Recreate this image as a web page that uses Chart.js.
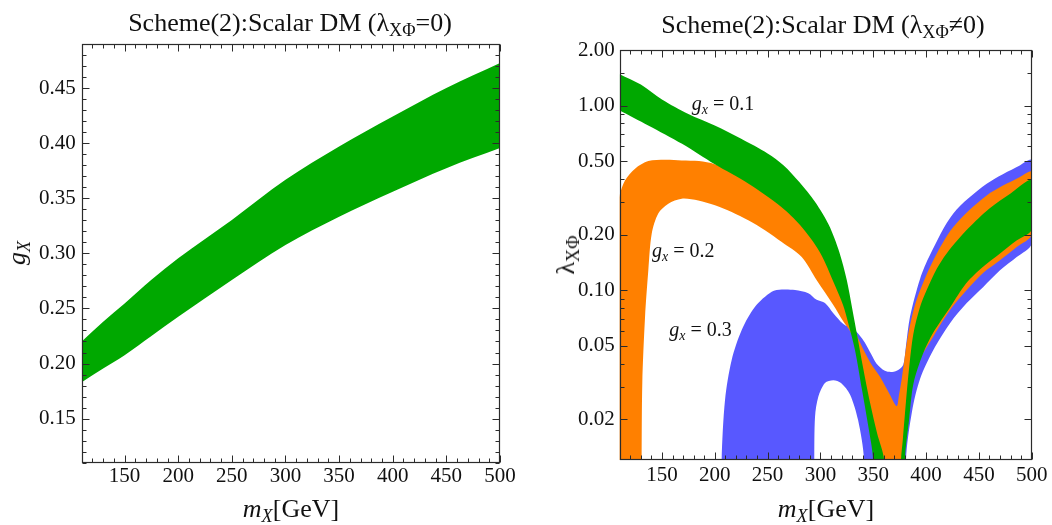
<!DOCTYPE html>
<html>
<head>
<meta charset="utf-8">
<script src="https://cdn.jsdelivr.net/npm/chart.js@4.4.0/dist/chart.umd.min.js"></script>
<style>
  html, body { margin: 0; padding: 0; background: #fff; }
  #page { position: relative; width: 1052px; height: 525px; overflow: hidden;
          font-family: "Liberation Serif", "Times New Roman", serif; color: #111; }
  canvas { position: absolute; top: 0; }
  .lbl { position: absolute; white-space: nowrap; line-height: 1; font-size: 26px; }
  .title { transform: translateX(-50%); }
  .xlab { transform: translateX(-50%); }
  .ylab { transform: translate(-50%, -50%) rotate(-90deg); }
  sub { font-size: 70%; vertical-align: -0.3em; line-height: 0; }
</style>
</head>
<body>
<div id="page">
  <canvas id="leftChart" width="520" height="525" style="left:0"></canvas>
  <canvas id="rightChart" width="522" height="525" style="left:530px"></canvas>
  <div class="lbl title" style="left:290px; top:10px">Scheme(2):Scalar DM (λ<sub>XΦ</sub>=0)</div>
  <div class="lbl title" style="left:823px; top:12px">Scheme(2):Scalar DM (λ<sub>XΦ</sub>≠0)</div>
  <div class="lbl xlab" style="left:291px; top:496px"><i>m</i><sub><i>X</i></sub>[GeV]</div>
  <div class="lbl xlab" style="left:826px; top:496px"><i>m</i><sub><i>X</i></sub>[GeV]</div>
  <div class="lbl ylab" style="left:17px; top:253px"><i>g</i><sub><i>X</i></sub></div>
  <div class="lbl ylab" style="left:566px; top:255px">λ<sub>XΦ</sub></div>
</div>
<script>
// ---- left panel: g_X band vs m_X (lambda_XPhi = 0)
const leftMass  = [110, 130, 150, 175, 200, 250, 300, 350, 400, 450, 500];
const leftUpper = [0.220, 0.238, 0.2545, 0.276, 0.2955, 0.3303, 0.3667, 0.3969, 0.4242, 0.4500, 0.4727];
const leftLower = [0.183, 0.1955, 0.2076, 0.225, 0.2424, 0.2758, 0.3076, 0.3333, 0.356, 0.3773, 0.3955];

const massTicks = [150, 200, 250, 300, 350, 400, 450, 500];
const leftYTicks = [0.15, 0.20, 0.25, 0.30, 0.35, 0.40, 0.45];
const rightYTicks = [0.02, 0.05, 0.1, 0.2, 0.5, 1, 2];
const rightYMinor = [0.03, 0.04, 0.06, 0.07, 0.08, 0.09, 0.3, 0.4, 0.6, 0.7, 0.8, 0.9, 1.5];

// ---- right panel: allowed lambda_XPhi bands, [m_X, lambda] along upper and lower edges
// (0.002-0.004 values lie below the plot floor and only close the shapes)
const g01Upper = [[110,1.48],[130,1.30],[150,1.08],[175,0.90],[200,0.78],[225,0.66],[250,0.55],[265,0.475],
  [280,0.385],[295,0.30],[308,0.225],[318,0.16],[325,0.113],[330,0.08],[335,0.056],[340,0.039],
  [347,0.0245],[353.6,0.0168],[360.3,0.012],[361,0.004],[375.5,0.004],[376.3,0.012],[378,0.0155],
  [381,0.025],[384,0.038],[388,0.058],[394,0.08],[400.6,0.1],[410,0.13],[419.5,0.158],[440,0.216],
  [460,0.277],[480,0.334],[500,0.393]];
const g01Lower = [[110,0.94],[137,0.78],[169,0.62],[200,0.48],[232,0.377],[263,0.282],[280.7,0.225],
  [299.6,0.16],[313.8,0.106],[321.4,0.0831],[326.1,0.067],[332.7,0.0474],[339.4,0.0287],[345.1,0.0186],
  [349.8,0.012],[350.5,0.002],[379.5,0.002],[380,0.012],[384,0.02],[388,0.031],[397,0.045],[407,0.059],
  [423,0.081],[438,0.109],[454,0.134],[470,0.158],[486,0.186],[500,0.213]];

const g02Upper = [[109,0.31],[110,0.33],[115,0.393],[124.5,0.455],[137.1,0.50],[152.9,0.509],[168.7,0.504],
  [185,0.50],[200,0.48],[230,0.40],[263,0.30],[295,0.21],[315,0.13],[329.9,0.066],[337.5,0.052],
  [346.9,0.0408],[356.4,0.0339],[365.8,0.0271],[372.2,0.0235],[374.4,0.0271],[377,0.0331],[379,0.040],
  [383.2,0.058],[391.1,0.0885],[406.9,0.145],[425.8,0.22],[457.4,0.326],[488.9,0.41],[500,0.436]];
const g02Lower = [[109,0.004],[130.6,0.004],[130.8,0.012],[131.4,0.0314],[134,0.0716],[137.1,0.128],
  [140.3,0.202],[146.5,0.26],[156,0.294],[168.7,0.313],[184.4,0.306],[200.2,0.288],[216,0.265],
  [231.7,0.239],[247.5,0.211],[263.4,0.182],[282.3,0.151],[296.5,0.113],[312.2,0.083],[321.4,0.068],
  [328,0.06],[332.7,0.052],[339.4,0.032],[345.1,0.021],[350,0.015],[354,0.012],[355,0.004],[377.5,0.004],
  [378.2,0.012],[382.9,0.0225],[389.5,0.0372],[406.9,0.0561],[422.7,0.078],[438.5,0.1],[454.2,0.124],
  [470,0.145],[485.8,0.171],[500,0.2]];

const g03Upper = [[206,0.004],[206.5,0.012],[209.7,0.0254],[216,0.0418],[225.5,0.0607],[238.1,0.0812],
  [253.9,0.0979],[263.4,0.1006],[276,0.1],[288.5,0.0962],[296.5,0.0885],[304.3,0.085],[312.2,0.0749],
  [321.7,0.0655],[331,0.0615],[337,0.057],[342,0.052],[348,0.045],[353,0.04],[361,0.0365],[368,0.036],
  [374,0.037],[378.5,0.0395],[381,0.05],[384.8,0.0716],[394.3,0.115],[403.7,0.155],[425.8,0.26],
  [457.4,0.377],[488.7,0.474],[500,0.504]];
const g03Lower = [[206,0.003],[294,0.003],[294.2,0.012],[294.9,0.0206],[298,0.0264],[304.3,0.0314],
  [312.2,0.0325],[319.5,0.0314],[328,0.0272],[335.6,0.0198],[341.3,0.012],[341.5,0.003],[380.8,0.003],
  [381,0.012],[386.7,0.022],[394.3,0.033],[406.9,0.0474],[422.7,0.0662],[438.5,0.085],[454.2,0.104],
  [470,0.128],[485.8,0.151],[500,0.179]];

const bandLabels = [
  { text: "0.1", mass: 178.2, lambda: 0.95 },
  { text: "0.2", mass: 140.6, lambda: 0.151 },
  { text: "0.3", mass: 157, lambda: 0.0563 }
];

const GREEN = "rgb(0,168,0)", ORANGE = "rgb(255,128,0)", BLUE = "rgb(88,88,255)";
const FONT = '"Liberation Serif", "Times New Roman", serif';
Chart.defaults.font.family = FONT;
Chart.defaults.color = "#111";

function polygon(upper, lower) {
  return upper.concat(lower.slice().reverse()).map((p) => ({ x: p[0], y: p[1] }));
}

function minorRange(from, to, step, skip) {
  const out = [];
  for (let v = from; v <= to + 1e-9; v += step) {
    const r = Math.round(v * 1000) / 1000;
    if (!skip.some((s) => Math.abs(s - r) < 1e-9)) out.push(r);
  }
  return out;
}

// frame with inward ticks on all four sides
const frameTicks = {
  id: "frameTicks",
  afterDatasetsDraw(chart, args, opts) {
    const { ctx, chartArea: a, scales: { x, y } } = chart;
    const L = Math.round(a.left) + 0.5, R = Math.round(a.right) - 0.5;
    const T = Math.round(a.top) + 0.5, B = Math.round(a.bottom) - 0.5;
    ctx.save();
    ctx.strokeStyle = "#2b2b2b";
    ctx.lineWidth = 1;
    ctx.beginPath();
    const seg = (x1, y1, x2, y2) => { ctx.moveTo(x1, y1); ctx.lineTo(x2, y2); };
    const xt = (v, len) => {
      const p = Math.round(x.getPixelForValue(v)) + 0.5;
      seg(p, B, p, B - len); seg(p, T, p, T + len);
    };
    const yt = (v, len) => {
      const p = Math.round(y.getPixelForValue(v)) + 0.5;
      seg(L, p, L + len, p); seg(R, p, R - len, p);
    };
    opts.xMajor.forEach((v) => xt(v, 7));
    opts.xMinor.forEach((v) => xt(v, 4));
    opts.yMajor.forEach((v) => yt(v, 7));
    opts.yMinor.forEach((v) => yt(v, 4));
    ctx.stroke();
    ctx.lineWidth = 1.2;
    ctx.strokeRect(L, T, R - L, B - T);
    ctx.restore();
  }
};

const labelPlugin = {
  id: "bandLabels",
  afterDatasetsDraw(chart) {
    const { ctx, scales: { x, y } } = chart;
    ctx.save();
    ctx.fillStyle = "#111";
    ctx.textBaseline = "alphabetic";
    bandLabels.forEach((l) => {
      let px = x.getPixelForValue(l.mass);
      const py = y.getPixelForValue(l.lambda);
      ctx.font = "italic 20px " + FONT;
      ctx.fillText("g", px, py);
      px += ctx.measureText("g").width;
      ctx.font = "italic 14px " + FONT;
      ctx.fillText("x", px, py + 4);
      px += ctx.measureText("x").width;
      ctx.font = "20px " + FONT;
      ctx.fillText(" = " + l.text, px, py);
    });
    ctx.restore();
  }
};

const massMinor = minorRange(110, 500, 10, massTicks);
const tickFont = { family: FONT, size: 21 };

function baseX(padding) {
  return {
    type: "linear", min: 110, max: 500,
    grid: { display: false, drawTicks: false },
    border: { display: false },
    afterBuildTicks: (s) => { s.ticks = massTicks.map((v) => ({ value: v })); },
    ticks: { font: tickFont, color: "#111", padding: padding, maxRotation: 0 }
  };
}

const common = {
  responsive: false,
  animation: false,
  events: [],
  elements: { line: { capBezierPoints: false } },
  plugins: { legend: { display: false }, tooltip: { enabled: false } }
};

new Chart(document.getElementById("leftChart"), {
  type: "line",
  data: {
    datasets: [
      {
        data: leftMass.map((m, i) => ({ x: m, y: leftUpper[i] })),
        fill: "+1", backgroundColor: GREEN, borderWidth: 0, pointRadius: 0,
        cubicInterpolationMode: "monotone"
      },
      {
        data: leftMass.map((m, i) => ({ x: m, y: leftLower[i] })),
        fill: false, borderWidth: 0, pointRadius: 0, cubicInterpolationMode: "monotone"
      }
    ]
  },
  options: Object.assign({}, common, {
    layout: { padding: { top: 44, right: 20, left: 0, bottom: 0 } },
    scales: {
      x: Object.assign(baseX(1), { afterFit: (s) => { s.height = 62.3; } }),
      y: {
        type: "linear", min: 0.11, max: 0.49,
        grid: { display: false, drawTicks: false },
        border: { display: false },
        afterFit: (s) => { s.width = 81.7; },
        afterBuildTicks: (s) => { s.ticks = leftYTicks.map((v) => ({ value: v })); },
        ticks: { font: tickFont, color: "#111", padding: 6,
                 callback: (v) => Number(v).toFixed(2) }
      }
    },
    plugins: Object.assign({}, common.plugins, {
      frameTicks: { xMajor: massTicks, xMinor: massMinor, yMajor: leftYTicks,
                    yMinor: minorRange(0.11, 0.49, 0.01, leftYTicks) }
    })
  }),
  plugins: [frameTicks]
});

const band = (pts, color) => ({
  data: pts, fill: "shape", backgroundColor: color, borderWidth: 0, pointRadius: 0, tension: 0.3
});

new Chart(document.getElementById("rightChart"), {
  type: "line",
  data: {
    datasets: [
      band(polygon(g01Upper, g01Lower), GREEN),
      band(polygon(g02Upper, g02Lower), ORANGE),
      band(polygon(g03Upper, g03Lower), BLUE)
    ]
  },
  options: Object.assign({}, common, {
    layout: { padding: { top: 50, right: 20.3, left: 0, bottom: 0 } },
    scales: {
      x: Object.assign(baseX(3), { afterFit: (s) => { s.height = 65; } }),
      y: {
        type: "logarithmic", min: 0.012, max: 2,
        grid: { display: false, drawTicks: false },
        border: { display: false },
        afterFit: (s) => { s.width = 89.7; },
        afterBuildTicks: (s) => { s.ticks = rightYTicks.map((v) => ({ value: v })); },
        ticks: { font: tickFont, color: "#111", padding: 5,
                 callback: (v) => Number(v).toFixed(2) }
      }
    },
    plugins: Object.assign({}, common.plugins, {
      frameTicks: { xMajor: massTicks, xMinor: massMinor, yMajor: rightYTicks, yMinor: rightYMinor }
    })
  }),
  plugins: [frameTicks, labelPlugin]
});
</script>
</body>
</html>
